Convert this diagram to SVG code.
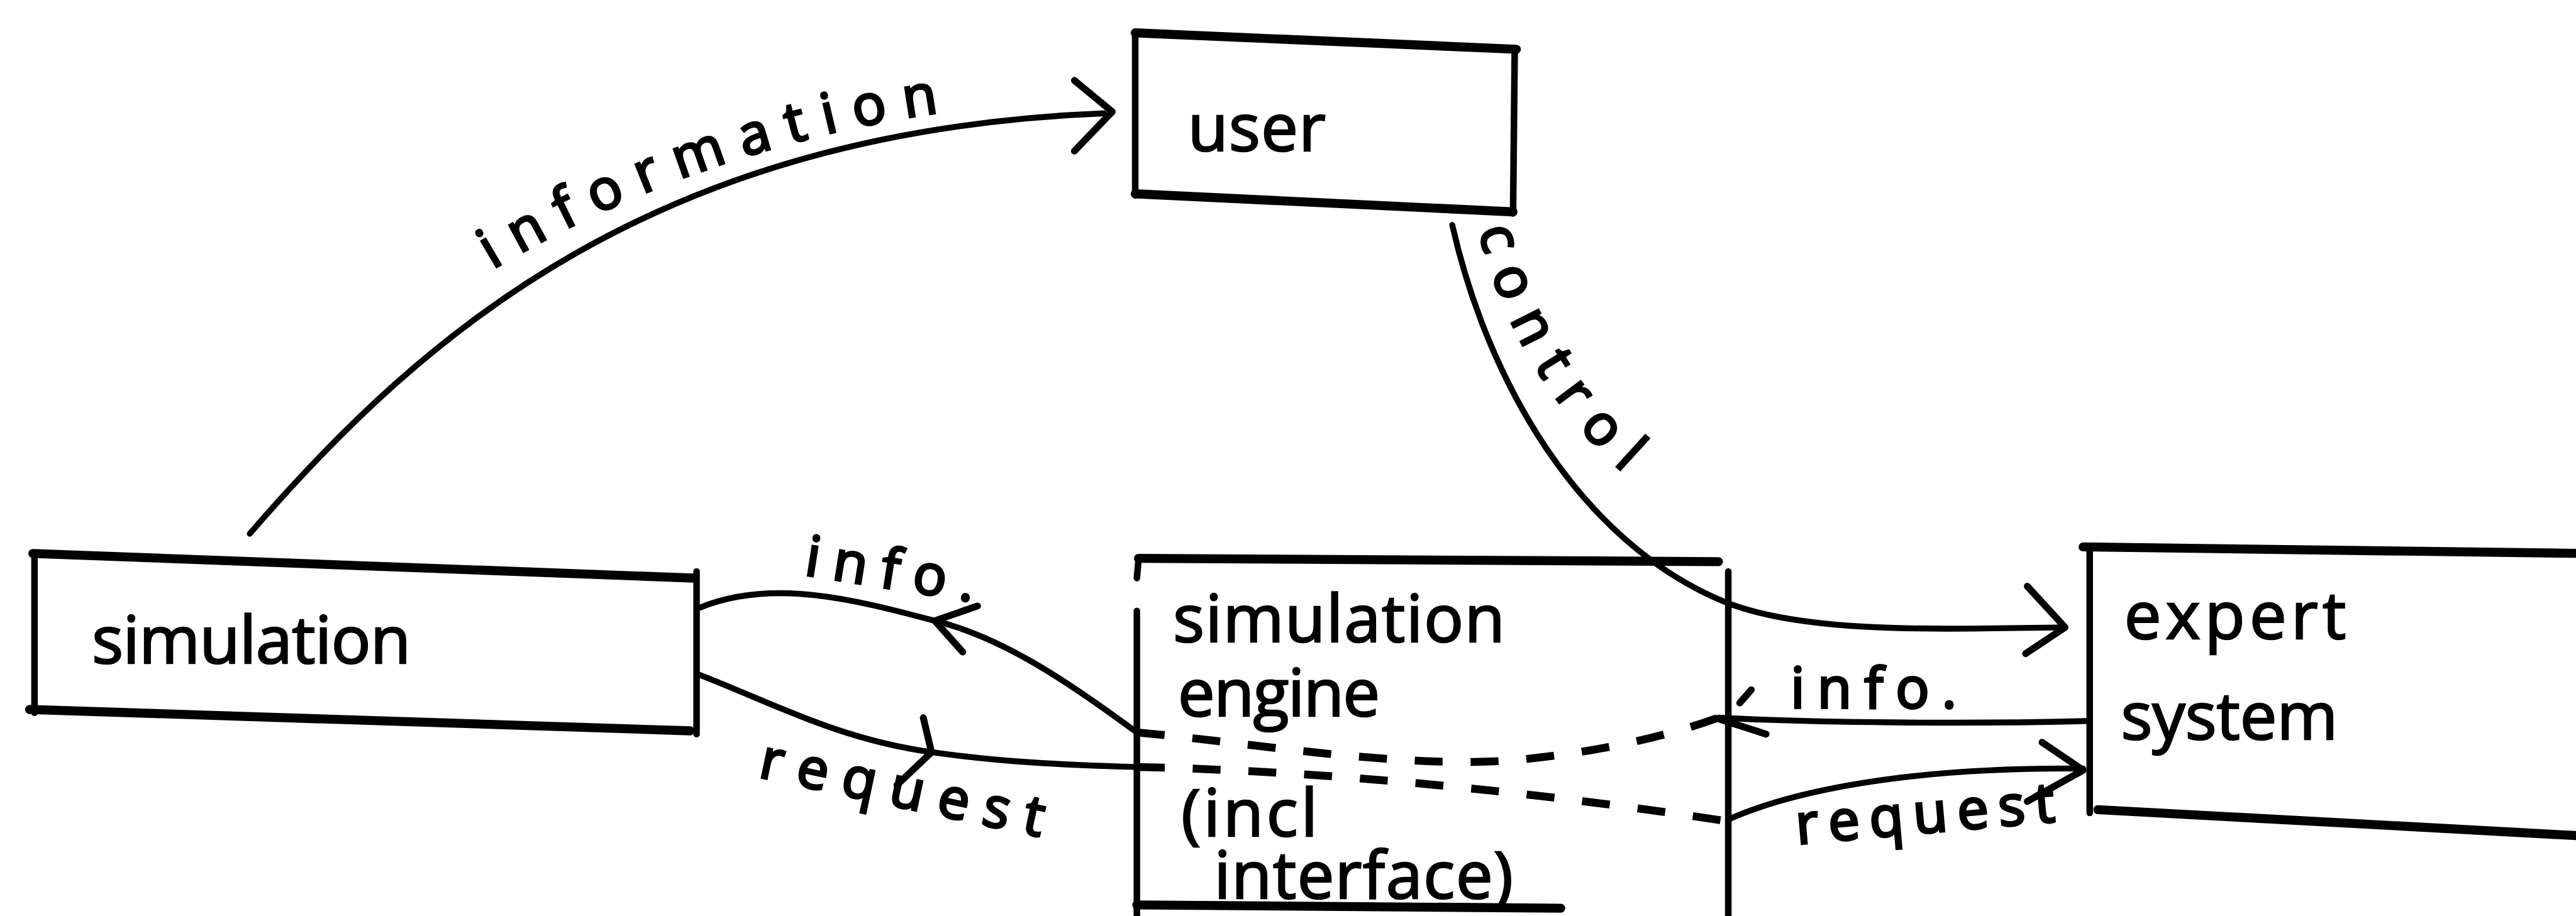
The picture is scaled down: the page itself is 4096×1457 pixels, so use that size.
<svg xmlns="http://www.w3.org/2000/svg" width="4096" height="1457" viewBox="0 0 4096 1457">
  <style>
    .rim-h { fill: none; stroke: #000; stroke-width: 5.5; stroke-linecap: round; }
    .rim-v { fill: none; stroke: #000; stroke-width: 4; stroke-linecap: round; }
    .conn { fill: none; stroke: #000; stroke-width: 3.6; stroke-linecap: round; stroke-linejoin: round; }
    .dash { fill: none; stroke: #000; stroke-width: 4.8; stroke-dasharray: 17 17; }
    .head { fill: none; stroke: #000; stroke-width: 4.2; stroke-linecap: round; stroke-linejoin: round; }
    .name { font-family: "Open Sans", "Noto Sans", "DejaVu Sans", sans-serif; font-size: 40px; fill: #000; stroke: #000; stroke-width: 1.0; }
    .tag { font-family: "Open Sans", "Noto Sans", "DejaVu Sans", sans-serif; font-size: 34px; fill: #000; stroke: #000; stroke-width: 1.5; }
  </style>
  <defs>
    <!-- baselines for the curved edge labels -->
    <path id="info-arc" d="M300,164 C 370,122 470,80 592,66"/>
    <path id="control-arc" d="M900,140 C 916,205 953,262 1003,300"/>
  </defs>

  <rect x="0" y="0" width="4096" height="1457" fill="#fff"/>

  <g transform="scale(2.61224)">
    <!-- nodes -->
    <g id="node-user">
      <path class="rim-h" d="M691,20 L923,30"/>
      <path class="rim-h" d="M691,118 L921,129"/>
      <path class="rim-v" d="M691,20 L691,119"/>
      <path class="rim-v" d="M922,30 L921,130"/>
      <text class="name" x="723" y="92" textLength="84" lengthAdjust="spacing">user</text>
    </g>

    <g id="node-simulation">
      <path class="rim-h" d="M20,337 L422,352"/>
      <path class="rim-h" d="M18,432 L420,445"/>
      <path class="rim-v" d="M21,337 L21,434"/>
      <path class="rim-v" d="M424,348 L424,447"/>
      <text class="name" x="56" y="404" textLength="194" lengthAdjust="spacing">simulation</text>
    </g>

    <g id="node-engine">
      <path class="rim-h" d="M693,340 L1046,342"/>
      <path class="rim-h" d="M692,551 L950,553"/>
      <path class="rim-v" d="M693,341 L692,352"/>
      <path class="rim-v" d="M692,372 L692,562"/>
      <path class="rim-v" d="M1052,348 L1052,562"/>
      <text class="name" x="714" y="391" textLength="202" lengthAdjust="spacing">simulation</text>
      <text class="name" x="717" y="436" textLength="123" lengthAdjust="spacing">engine</text>
      <text class="name" x="719" y="509" textLength="83" lengthAdjust="spacing">(incl</text>
      <text class="name" x="739" y="547" textLength="182" lengthAdjust="spacing">interface)</text>
    </g>

    <g id="node-expert">
      <path class="rim-h" d="M1268,333 L1572,337"/>
      <path class="rim-h" d="M1277,493 L1572,509"/>
      <path class="rim-v" d="M1272,334 L1272,495"/>
      <text class="name" x="1293" y="389" textLength="135" lengthAdjust="spacing">expert</text>
      <text class="name" x="1291" y="450" textLength="132" lengthAdjust="spacing">system</text>
    </g>

    <!-- connectors -->
    <g id="connectors">
      <g id="edge-information">
        <path class="conn" d="M152,325 C 260,200 400,80 672,69"/>
        <path class="head" d="M654,49 L677,68 L654,92"/>
        <text class="tag"><textPath href="#info-arc" textLength="290" lengthAdjust="spacing">information</textPath></text>
      </g>

      <g id="edge-control">
        <path class="conn" d="M884,137 C 905,230 960,330 1051,367 C 1100,386 1180,383 1255,382"/>
        <path class="head" d="M1234,357 L1257,382 L1233,398"/>
        <text class="tag"><textPath href="#control-arc" textLength="175" lengthAdjust="spacing">control</textPath></text>
      </g>

      <g id="edge-info-left">
        <path class="conn" d="M692,446 C 650,415 610,388 569,378 C 520,365 470,352 426,370"/>
        <path class="head" d="M595,369 L569,378 L586,397"/>
        <text class="tag" x="489" y="350" textLength="104" lengthAdjust="spacing" transform="rotate(9 489 350)">info.</text>
      </g>

      <g id="edge-request-left">
        <path class="conn" d="M426,411 C 470,428 510,450 567,458 C 610,464 650,466 692,467"/>
        <path class="head" d="M562,437 L567,458 L546,478"/>
        <text class="tag" x="461" y="473" textLength="176" lengthAdjust="spacing" transform="rotate(12 461 473)">request</text>
      </g>

      <g id="edge-info-right">
        <path class="conn" d="M1272,439 C 1200,441 1100,440 1046,437"/>
        <path class="head" d="M1059,428 L1066,420"/>
        <path class="head" d="M1047,438 L1075,447"/>
        <text class="tag" x="1090" y="431" textLength="101" lengthAdjust="spacing">info.</text>
      </g>

      <g id="edge-request-right">
        <path class="conn" d="M1052,499 C 1090,482 1160,467 1268,468"/>
        <path class="head" d="M1243,452 L1268,469 L1234,488"/>
        <text class="tag" x="1094" y="514" textLength="158" lengthAdjust="spacing" transform="rotate(-5 1094 514)">request</text>
      </g>

      <!-- routes through the engine -->
      <path class="dash" d="M692,446 C 760,452 850,468 920,463 C 975,458 1015,448 1046,437"/>
      <path class="dash" d="M692,467 C 780,469 900,477 1051,500"/>
    </g>
  </g>
</svg>
